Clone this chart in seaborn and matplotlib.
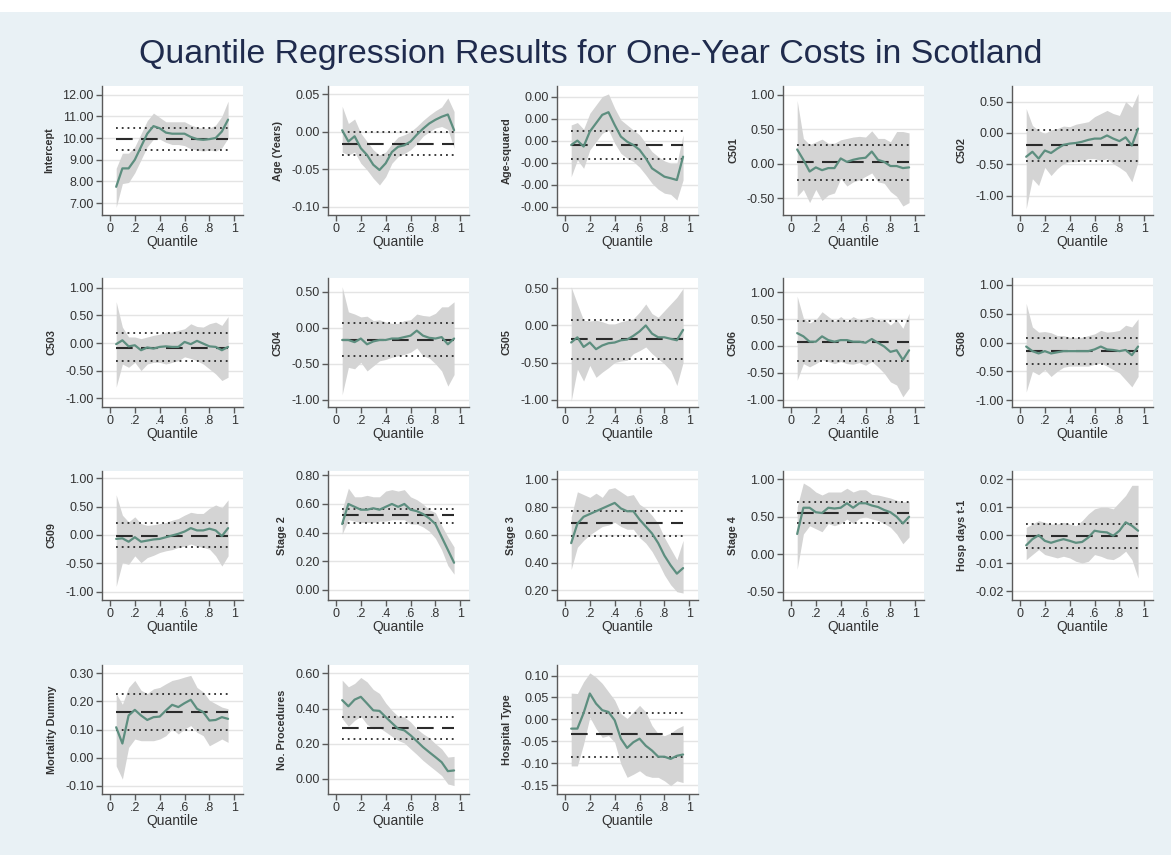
import numpy as np
import matplotlib
matplotlib.use("Agg")
import matplotlib.pyplot as plt
from matplotlib.patches import Rectangle
from matplotlib.ticker import FuncFormatter
from matplotlib import font_manager
import seaborn as sns

#################################################
#   DATA   --------------------------------------
#################################################
quantiles = [0.05, 0.10, 0.15, 0.20, 0.25, 0.30, 0.35, 0.40, 0.45, 0.50,
             0.55, 0.60, 0.65, 0.70, 0.75, 0.80, 0.85, 0.90, 0.95]
x_ticks = [0, 0.2, 0.4, 0.6, 0.8, 1]
x_tick_labels = ["0", ".2", ".4", ".6", ".8", "1"]

# Intercept
intercept_coef = [7.75, 8.6, 8.6, 9.0, 9.6, 10.2, 10.55, 10.45, 10.25, 10.2, 10.2, 10.2, 10.05, 9.95, 9.92, 9.95, 10.0, 10.3, 10.85]
intercept_hi = [8.6, 9.3, 9.3, 9.6, 10.2, 10.8, 11.15, 10.95, 10.75, 10.75, 10.75, 10.75, 10.6, 10.5, 10.45, 10.45, 10.6, 11.0, 11.7]
intercept_lo = [6.8, 7.9, 7.95, 8.4, 9.0, 9.6, 9.95, 9.95, 9.8, 9.7, 9.7, 9.65, 9.5, 9.45, 9.4, 9.45, 9.4, 9.55, 10.0]
intercept_ols = [9.95, 9.45, 10.45]

# Age (Years)
age_coef = [0.002, -0.013, -0.006, -0.022, -0.031, -0.044, -0.051, -0.042, -0.027, -0.020, -0.018, -0.013, -0.004, 0.004, 0.011, 0.016, 0.020, 0.023, 0.002]
age_hi = [0.034, 0.011, 0.017, -0.002, -0.013, -0.024, -0.031, -0.027, -0.016, -0.007, -0.004, 0.000, 0.007, 0.015, 0.022, 0.028, 0.033, 0.045, 0.027]
age_lo = [-0.027, -0.031, -0.027, -0.042, -0.051, -0.062, -0.071, -0.060, -0.042, -0.033, -0.029, -0.024, -0.016, -0.006, 0.000, 0.005, 0.007, 0.003, -0.022]
age_ols = [-0.0165, -0.031, -0.001]

# Age-squared (values in units of 1e-4)
agesq_coef = [-0.2, 0.0, -0.27, 0.41, 0.79, 1.17, 1.29, 0.71, 0.18, -0.05, -0.2, -0.42, -0.8, -1.26, -1.45, -1.64, -1.71, -1.79, -0.73]
agesq_hi = [0.71, 0.82, 0.52, 1.24, 1.62, 2.0, 2.12, 1.47, 0.94, 0.71, 0.48, 0.26, -0.12, -0.5, -0.73, -0.92, -1.03, -1.03, 0.26]
agesq_lo = [-1.64, -0.88, -1.26, -0.42, -0.05, 0.33, 0.48, -0.12, -0.58, -0.8, -0.95, -1.21, -1.56, -1.94, -2.21, -2.39, -2.44, -2.7, -1.79]
agesq_ols = [-0.2, -0.82, 0.45]

# C501
c501_coef = [0.21, 0.06, -0.11, -0.05, -0.09, -0.06, -0.06, 0.08, 0.03, 0.06, 0.08, 0.09, 0.18, 0.06, 0.03, -0.03, -0.03, -0.06, -0.05]
c501_hi = [0.92, 0.37, 0.28, 0.32, 0.36, 0.30, 0.30, 0.35, 0.37, 0.39, 0.40, 0.39, 0.48, 0.37, 0.37, 0.32, 0.47, 0.47, 0.45]
c501_lo = [-0.47, -0.37, -0.56, -0.37, -0.53, -0.45, -0.42, -0.21, -0.32, -0.26, -0.23, -0.18, -0.13, -0.26, -0.28, -0.40, -0.47, -0.61, -0.56]
c501_ols = [0.034, -0.23, 0.275]

# C502
c502_coef = [-0.38, -0.30, -0.41, -0.28, -0.32, -0.25, -0.19, -0.17, -0.16, -0.14, -0.11, -0.09, -0.09, -0.04, -0.09, -0.13, -0.07, -0.20, 0.07]
c502_hi = [0.39, 0.12, 0.04, -0.01, 0.05, 0.07, 0.11, 0.10, 0.14, 0.16, 0.18, 0.26, 0.31, 0.36, 0.31, 0.28, 0.50, 0.41, 0.63]
c502_lo = [-1.21, -0.73, -0.84, -0.55, -0.68, -0.57, -0.49, -0.46, -0.46, -0.44, -0.41, -0.41, -0.44, -0.41, -0.49, -0.55, -0.62, -0.78, -0.46]
c502_ols = [-0.20, -0.44, 0.04]

# C503
c503_coef = [-0.02, 0.05, -0.06, -0.04, -0.13, -0.08, -0.10, -0.07, -0.06, -0.07, -0.07, 0.02, -0.02, 0.04, -0.01, -0.06, -0.07, -0.13, -0.07]
c503_hi = [0.75, 0.29, 0.11, 0.11, 0.08, 0.11, 0.14, 0.16, 0.20, 0.20, 0.23, 0.26, 0.35, 0.30, 0.29, 0.35, 0.38, 0.32, 0.48]
c503_lo = [-0.80, -0.38, -0.44, -0.35, -0.50, -0.38, -0.35, -0.35, -0.38, -0.35, -0.32, -0.25, -0.28, -0.32, -0.38, -0.47, -0.56, -0.68, -0.62]
c503_ols = [-0.085, -0.33, 0.18]

# C504
c504_coef = [-0.17, -0.17, -0.20, -0.15, -0.23, -0.19, -0.17, -0.17, -0.15, -0.15, -0.13, -0.11, -0.04, -0.11, -0.14, -0.15, -0.13, -0.23, -0.15]
c504_hi = [0.57, 0.22, 0.19, 0.15, 0.16, 0.10, 0.11, 0.08, 0.06, 0.06, 0.10, 0.11, 0.19, 0.17, 0.16, 0.20, 0.29, 0.29, 0.36]
c504_lo = [-0.93, -0.55, -0.57, -0.48, -0.60, -0.53, -0.46, -0.44, -0.41, -0.39, -0.37, -0.34, -0.28, -0.39, -0.42, -0.50, -0.60, -0.81, -0.65]
c504_ols = [-0.17, -0.39, 0.06]

# C505
c505_coef = [-0.23, -0.16, -0.29, -0.23, -0.32, -0.27, -0.24, -0.23, -0.20, -0.19, -0.14, -0.08, 0.00, -0.11, -0.16, -0.16, -0.18, -0.20, -0.06]
c505_hi = [0.52, 0.29, 0.07, 0.06, 0.07, 0.05, 0.02, 0.02, 0.05, 0.07, 0.09, 0.18, 0.29, 0.16, 0.11, 0.20, 0.29, 0.38, 0.50]
c505_lo = [-1.02, -0.59, -0.75, -0.54, -0.70, -0.63, -0.57, -0.50, -0.48, -0.47, -0.38, -0.34, -0.29, -0.38, -0.45, -0.52, -0.61, -0.81, -0.50]
c505_ols = [-0.18, -0.45, 0.07]

# C506
c506_coef = [0.24, 0.18, 0.08, 0.08, 0.18, 0.11, 0.08, 0.11, 0.11, 0.08, 0.08, 0.06, 0.13, 0.06, -0.01, -0.11, -0.08, -0.26, -0.08]
c506_hi = [0.93, 0.52, 0.43, 0.49, 0.64, 0.55, 0.46, 0.55, 0.46, 0.55, 0.49, 0.52, 0.55, 0.48, 0.49, 0.39, 0.49, 0.33, 0.61]
c506_lo = [-0.64, -0.33, -0.39, -0.33, -0.26, -0.29, -0.33, -0.29, -0.33, -0.34, -0.31, -0.36, -0.29, -0.39, -0.51, -0.67, -0.73, -0.95, -0.79]
c506_ols = [0.08, -0.28, 0.47]

# C508
c508_coef = [-0.07, -0.15, -0.19, -0.15, -0.19, -0.17, -0.15, -0.15, -0.15, -0.15, -0.15, -0.12, -0.07, -0.12, -0.13, -0.15, -0.13, -0.22, -0.07]
c508_hi = [0.68, 0.27, 0.18, 0.19, 0.17, 0.12, 0.12, 0.09, 0.09, 0.09, 0.12, 0.15, 0.21, 0.18, 0.19, 0.21, 0.30, 0.27, 0.41]
c508_lo = [-0.86, -0.50, -0.56, -0.47, -0.59, -0.50, -0.43, -0.41, -0.41, -0.41, -0.41, -0.38, -0.36, -0.41, -0.47, -0.53, -0.65, -0.77, -0.59]
c508_ols = [-0.15, -0.37, 0.07]

# C509
c509_coef = [-0.07, -0.06, -0.12, -0.04, -0.12, -0.10, -0.08, -0.07, -0.04, -0.01, 0.02, 0.06, 0.12, 0.08, 0.08, 0.11, 0.08, -0.02, 0.12]
c509_hi = [0.71, 0.35, 0.23, 0.32, 0.20, 0.17, 0.18, 0.20, 0.22, 0.26, 0.29, 0.35, 0.40, 0.38, 0.38, 0.47, 0.53, 0.48, 0.62]
c509_lo = [-0.91, -0.49, -0.52, -0.37, -0.49, -0.40, -0.36, -0.31, -0.28, -0.26, -0.22, -0.20, -0.16, -0.20, -0.22, -0.25, -0.37, -0.55, -0.37]
c509_ols = [-0.02, -0.22, 0.21]

# Stage 2
stage2_coef = [0.46, 0.60, 0.58, 0.56, 0.56, 0.57, 0.56, 0.58, 0.60, 0.58, 0.60, 0.56, 0.55, 0.53, 0.50, 0.46, 0.37, 0.28, 0.19]
stage2_hi = [0.56, 0.71, 0.65, 0.65, 0.66, 0.65, 0.65, 0.69, 0.70, 0.69, 0.70, 0.65, 0.63, 0.60, 0.56, 0.54, 0.45, 0.37, 0.30]
stage2_lo = [0.39, 0.49, 0.48, 0.47, 0.47, 0.47, 0.48, 0.48, 0.49, 0.49, 0.49, 0.46, 0.46, 0.44, 0.41, 0.36, 0.28, 0.17, 0.11]
stage2_ols = [0.52, 0.465, 0.565]

# Stage 3
stage3_coef = [0.54, 0.68, 0.73, 0.75, 0.77, 0.79, 0.81, 0.83, 0.79, 0.77, 0.77, 0.71, 0.66, 0.61, 0.54, 0.45, 0.38, 0.32, 0.36]
stage3_hi = [0.73, 0.91, 0.89, 0.87, 0.90, 0.87, 0.93, 0.94, 0.91, 0.88, 0.89, 0.82, 0.79, 0.74, 0.68, 0.58, 0.50, 0.42, 0.56]
stage3_lo = [0.35, 0.51, 0.56, 0.60, 0.63, 0.66, 0.67, 0.69, 0.66, 0.64, 0.64, 0.58, 0.54, 0.48, 0.40, 0.31, 0.24, 0.19, 0.18]
stage3_ols = [0.683, 0.59, 0.77]

# Stage 4
stage4_coef = [0.27, 0.62, 0.62, 0.56, 0.55, 0.62, 0.61, 0.62, 0.68, 0.62, 0.68, 0.68, 0.65, 0.63, 0.59, 0.56, 0.50, 0.41, 0.50]
stage4_hi = [0.63, 0.95, 0.90, 0.83, 0.79, 0.83, 0.83, 0.83, 0.88, 0.83, 0.86, 0.86, 0.80, 0.79, 0.77, 0.75, 0.72, 0.70, 0.70]
stage4_lo = [-0.20, 0.27, 0.38, 0.34, 0.30, 0.41, 0.38, 0.41, 0.47, 0.41, 0.48, 0.50, 0.47, 0.45, 0.41, 0.36, 0.27, 0.14, 0.23]
stage4_ols = [0.55, 0.42, 0.70]

# Hosp days t-1
hosp_coef = [-0.0036, -0.0014, 0.0, -0.002, -0.0027, -0.002, -0.0014, -0.002, -0.0027, -0.0024, -0.0008, 0.0016, 0.0012, 0.001, -0.0002, 0.0016, 0.0046, 0.0034, 0.0016]
hosp_hi = [0.0028, 0.004, 0.0052, 0.0046, 0.004, 0.004, 0.0046, 0.004, 0.0034, 0.0052, 0.0076, 0.0094, 0.01, 0.01, 0.0094, 0.0118, 0.0142, 0.0178, 0.0178]
hosp_lo = [-0.0087, -0.0069, -0.0051, -0.0069, -0.0075, -0.0081, -0.0075, -0.0081, -0.0093, -0.0099, -0.0093, -0.0069, -0.0075, -0.0084, -0.0087, -0.0075, -0.0057, -0.0087, -0.0153]
hosp_ols = [-0.0002, -0.0045, 0.004]

# Mortality Dummy
mort_coef = [0.108, 0.05, 0.15, 0.17, 0.15, 0.134, 0.144, 0.146, 0.168, 0.188, 0.18, 0.194, 0.206, 0.174, 0.162, 0.132, 0.134, 0.144, 0.138]
mort_hi = [0.228, 0.19, 0.25, 0.275, 0.24, 0.228, 0.245, 0.25, 0.263, 0.275, 0.28, 0.287, 0.293, 0.25, 0.234, 0.204, 0.192, 0.18, 0.174]
mort_lo = [-0.03, -0.077, 0.036, 0.066, 0.06, 0.06, 0.06, 0.066, 0.078, 0.102, 0.084, 0.102, 0.114, 0.09, 0.078, 0.042, 0.054, 0.066, 0.054]
mort_ols = [0.164, 0.10, 0.225]

# No. Procedures
proc_coef = [0.448, 0.413, 0.451, 0.467, 0.429, 0.39, 0.387, 0.352, 0.318, 0.285, 0.276, 0.248, 0.215, 0.181, 0.152, 0.124, 0.095, 0.044, 0.048]
proc_hi = [0.562, 0.524, 0.543, 0.577, 0.552, 0.509, 0.486, 0.432, 0.39, 0.356, 0.352, 0.324, 0.285, 0.257, 0.234, 0.2, 0.171, 0.124, 0.128]
proc_lo = [0.343, 0.299, 0.333, 0.356, 0.31, 0.285, 0.291, 0.267, 0.242, 0.219, 0.204, 0.171, 0.139, 0.105, 0.076, 0.048, 0.019, -0.029, -0.038]
proc_ols = [0.29, 0.228, 0.35]

# Hospital Type
htype_coef = [-0.021, -0.021, 0.0145, 0.059, 0.036, 0.021, 0.017, -0.002, -0.044, -0.065, -0.052, -0.044, -0.060, -0.071, -0.085, -0.085, -0.090, -0.083, -0.080]
htype_hi = [0.060, 0.059, 0.086, 0.106, 0.096, 0.082, 0.063, 0.044, 0.013, 0.002, 0.017, 0.032, 0.017, -0.014, -0.033, -0.037, -0.031, -0.021, -0.014]
htype_lo = [-0.106, -0.106, -0.056, 0.005, -0.021, -0.041, -0.037, -0.052, -0.102, -0.132, -0.125, -0.117, -0.128, -0.132, -0.132, -0.140, -0.151, -0.140, -0.144]
htype_ols = [-0.034, -0.085, 0.0145]

labels = ["Intercept", "Age (Years)", "Age-squared", "C501", "C502",
          "C503", "C504", "C505", "C506", "C508",
          "C509", "Stage 2", "Stage 3", "Stage 4", "Hosp days t-1",
          "Mortality Dummy", "No. Procedures", "Hospital Type"]

agesq_scale = 1e-4
panel_data = [
    (intercept_coef, intercept_lo, intercept_hi, intercept_ols),
    (age_coef, age_lo, age_hi, age_ols),
    (np.array(agesq_coef) * agesq_scale, np.array(agesq_lo) * agesq_scale,
     np.array(agesq_hi) * agesq_scale, np.array(agesq_ols) * agesq_scale),
    (c501_coef, c501_lo, c501_hi, c501_ols),
    (c502_coef, c502_lo, c502_hi, c502_ols),
    (c503_coef, c503_lo, c503_hi, c503_ols),
    (c504_coef, c504_lo, c504_hi, c504_ols),
    (c505_coef, c505_lo, c505_hi, c505_ols),
    (c506_coef, c506_lo, c506_hi, c506_ols),
    (c508_coef, c508_lo, c508_hi, c508_ols),
    (c509_coef, c509_lo, c509_hi, c509_ols),
    (stage2_coef, stage2_lo, stage2_hi, stage2_ols),
    (stage3_coef, stage3_lo, stage3_hi, stage3_ols),
    (stage4_coef, stage4_lo, stage4_hi, stage4_ols),
    (hosp_coef, hosp_lo, hosp_hi, hosp_ols),
    (mort_coef, mort_lo, mort_hi, mort_ols),
    (proc_coef, proc_lo, proc_hi, proc_ols),
    (htype_coef, htype_lo, htype_hi, htype_ols),
]

#################################################
#   AXIS SETTINGS PER PANEL   -------------------
#################################################
y_limits = [(6.45, 12.4), (-0.111, 0.061), (-3.38e-4, 2.48e-4), (-0.74, 1.13), (-1.31, 0.75),
            (-1.16, 1.18), (-1.10, 0.69), (-1.10, 0.64), (-1.14, 1.27), (-1.12, 1.12),
            (-1.15, 1.13), (-0.07, 0.83), (0.13, 1.06), (-0.61, 1.11), (-0.0231, 0.0229),
            (-0.13, 0.33), (-0.086, 0.648), (-0.170, 0.124)]
y_ticks = [np.arange(7, 12.01, 1), np.arange(-0.10, 0.051, 0.05), np.arange(-3e-4, 2.01e-4, 1e-4),
           np.arange(-0.5, 1.01, 0.5), np.arange(-1.0, 0.51, 0.5),
           np.arange(-1.0, 1.01, 0.5), np.arange(-1.0, 0.51, 0.5), np.arange(-1.0, 0.51, 0.5),
           np.arange(-1.0, 1.01, 0.5), np.arange(-1.0, 1.01, 0.5),
           np.arange(-1.0, 1.01, 0.5), np.arange(0, 0.81, 0.2), np.arange(0.2, 1.01, 0.2),
           np.arange(-0.5, 1.01, 0.5), np.arange(-0.02, 0.021, 0.01),
           np.arange(-0.1, 0.31, 0.1), np.arange(0, 0.61, 0.2), np.arange(-0.15, 0.101, 0.05)]

#################################################
#   FIGURE   -------------------------------------
#################################################
sns.set_theme(style="white")
plt.rcParams['font.family'] = ['Liberation Sans', 'DejaVu Sans']

installed = {f.name for f in font_manager.fontManager.ttflist}
if "Liberation Sans Narrow" in installed:
    title_font, title_size = "Liberation Sans Narrow", 29
else:
    title_font, title_size = "Liberation Sans", 24.4

W, H = 1171, 855
fig = plt.figure(figsize=(W / 100, H / 100), dpi=100)
fig.patch.set_facecolor("#e9f1f5")
fig.patches.append(Rectangle((0, 1 - 12 / H), 1, 12 / H, transform=fig.transFigure,
                             facecolor="white", edgecolor="none", zorder=0))

fig.text(591 / W, 1 - 63 / H, "Quantile Regression Results for One-Year Costs in Scotland",
         ha="center", va="baseline", fontsize=title_size, color="#1f2b4d",
         family=[title_font, "DejaVu Sans"])

col_left = [102, 328, 557, 783, 1012]
row_top = [86, 278, 471, 665]
pw, ph = 141, 129

line_color = "#5d8e7f"
band_color = "#d4d4d4"
ols_color = "#2b2b2b"
axis_color = "#5a5a5a"

for k, (coef, lo, hi, ols) in enumerate(panel_data):
    r, c = divmod(k, 5)
    ax = fig.add_axes([col_left[c] / W, 1 - (row_top[r] + ph) / H, pw / W, ph / H])
    ax.set_facecolor("white")

    ax.fill_between(quantiles, lo, hi, color=band_color, lw=0, zorder=1)
    ax.axhline(ols[0], xmin=0.1005, xmax=0.894, color=ols_color, lw=1.5,
               dashes=(8, 4), zorder=2)
    for v in ols[1:]:
        ax.axhline(v, xmin=0.1005, xmax=0.894, color=ols_color, lw=1.3,
                   linestyle=(0, (1, 2.2)), zorder=2)
    sns.lineplot(x=quantiles, y=coef, ax=ax, color=line_color, lw=1.6, zorder=3)

    ax.set_xlim(-0.064, 1.07)
    ax.set_ylim(*y_limits[k])
    ax.set_xticks(x_ticks)
    ax.set_xticklabels(x_tick_labels)
    ax.set_yticks(y_ticks[k])
    ax.yaxis.set_major_formatter(FuncFormatter(lambda v, p: f"{v:.2f}"))

    ax.grid(axis="y", color="#e4e4e4", lw=1)
    ax.grid(axis="x", visible=False)
    ax.set_axisbelow(True)

    for side in ["top", "right"]:
        ax.spines[side].set_visible(False)
    for side in ["left", "bottom"]:
        ax.spines[side].set_color(axis_color)
        ax.spines[side].set_linewidth(1)
    ax.tick_params(axis="both", direction="out", length=4, width=1, color=axis_color,
                   labelsize=9, labelcolor="#333333", pad=2, left=True, bottom=True)

    ax.set_xlabel("Quantile", fontsize=10, color="#333333", labelpad=0)
    ax.set_ylabel(labels[k], fontsize=7.8, fontweight="bold", color="#333333", labelpad=6)

fig.savefig("out.png", dpi=100, facecolor=fig.get_facecolor())
